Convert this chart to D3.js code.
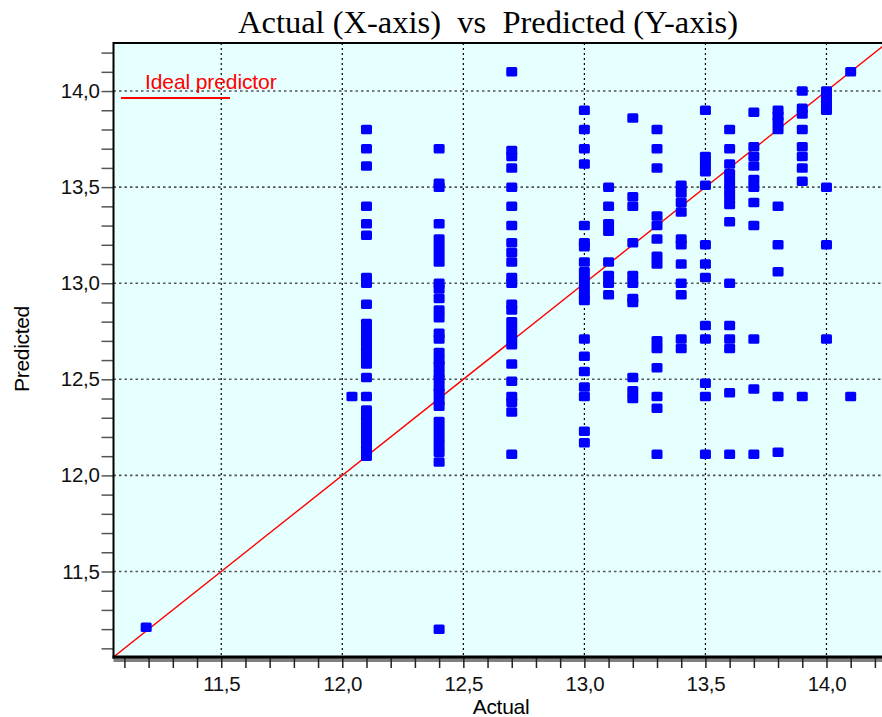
<!DOCTYPE html>
<html>
<head>
<meta charset="utf-8">
<script src="https://cdn.jsdelivr.net/npm/d3@7"></script>
<style>
  html, body { margin: 0; padding: 0; background: #ffffff; }
  svg { display: block; }
</style>
</head>
<body>
<svg id="chart" width="882" height="717"></svg>
<script>
// Actual values (x) and the predicted values observed at each of them (y)
const actualLevels = [11.19, 12.04, 12.1, 12.4, 12.7, 13.0, 13.1, 13.2, 13.3, 13.4, 13.5, 13.6, 13.7, 13.8, 13.9, 14.0, 14.1];

const predicted_11_19 = [11.21];
const predicted_12_04 = [12.41];
const predicted_12_1 = [13.80, 13.70, 13.61, 13.40, 13.31, 13.25, 13.03, 13.00, 12.89, 12.79, 12.76, 12.73, 12.70, 12.67, 12.64, 12.62, 12.58, 12.51, 12.41, 12.34, 12.31, 12.28, 12.25, 12.22, 12.19, 12.16, 12.13, 12.10];
const predicted_12_4 = [13.70, 13.52, 13.50, 13.31, 13.23, 13.19, 13.15, 13.11, 13.00, 12.97, 12.92, 12.86, 12.82, 12.74, 12.71, 12.64, 12.60, 12.57, 12.53, 12.50, 12.46, 12.43, 12.39, 12.36, 12.28, 12.24, 12.20, 12.16, 12.12, 12.07, 11.20];
const predicted_12_7 = [14.10, 13.69, 13.66, 13.60, 13.50, 13.40, 13.30, 13.21, 13.16, 13.11, 13.03, 13.00, 12.89, 12.86, 12.80, 12.76, 12.72, 12.68, 12.58, 12.49, 12.41, 12.38, 12.33, 12.11];
const predicted_13_0 = [13.90, 13.80, 13.70, 13.62, 13.30, 13.21, 13.19, 13.11, 13.06, 13.02, 12.98, 12.94, 12.91, 12.71, 12.62, 12.54, 12.46, 12.41, 12.23, 12.17];
const predicted_13_1 = [13.50, 13.40, 13.31, 13.27, 13.11, 13.04, 13.00, 12.94];
const predicted_13_2 = [13.86, 13.45, 13.40, 13.21, 13.04, 13.00, 12.92, 12.90, 12.51, 12.44, 12.40];
const predicted_13_3 = [13.80, 13.70, 13.60, 13.35, 13.30, 13.23, 13.14, 13.10, 12.70, 12.66, 12.56, 12.41, 12.35, 12.11];
const predicted_13_4 = [13.51, 13.47, 13.42, 13.37, 13.23, 13.20, 13.10, 13.00, 12.94, 12.71, 12.66];
const predicted_13_5 = [13.90, 13.66, 13.62, 13.58, 13.51, 13.20, 13.10, 13.03, 12.78, 12.71, 12.48, 12.41, 12.11];
const predicted_13_6 = [13.80, 13.70, 13.62, 13.57, 13.53, 13.49, 13.45, 13.41, 13.32, 13.00, 12.78, 12.71, 12.66, 12.43, 12.11];
const predicted_13_7 = [13.89, 13.71, 13.66, 13.61, 13.54, 13.50, 13.42, 13.30, 12.71, 12.45, 12.11];
const predicted_13_8 = [13.90, 13.87, 13.84, 13.80, 13.40, 13.20, 13.06, 12.41, 12.12];
const predicted_13_9 = [14.00, 13.91, 13.88, 13.80, 13.71, 13.66, 13.60, 13.53, 12.41];
const predicted_14_0 = [14.00, 13.96, 13.93, 13.90, 13.50, 13.20, 12.71];
const predicted_14_1 = [14.10, 12.41];

const predictedByLevel = [
  predicted_11_19, predicted_12_04, predicted_12_1, predicted_12_4, predicted_12_7,
  predicted_13_0, predicted_13_1, predicted_13_2, predicted_13_3, predicted_13_4,
  predicted_13_5, predicted_13_6, predicted_13_7, predicted_13_8, predicted_13_9,
  predicted_14_0, predicted_14_1
];

// Axis ticks and labels
const majorTicks = [11.5, 12.0, 12.5, 13.0, 13.5, 14.0];
const minorTicks = d3.range(111, 143).map(v => v / 10);
const xDomain = [11.055, 14.25];
const yDomain = [11.055, 14.25];
const titleText = "Actual (X-axis)  vs  Predicted (Y-axis)";
const xTitle = "Actual";
const yTitle = "Predicted";
const legendLabel = "Ideal predictor";

const points = [];
actualLevels.forEach((a, i) => predictedByLevel[i].forEach(p => points.push({ actual: a, predicted: p })));

const SANS = "Liberation Sans, Arial, sans-serif";
const SERIF = "Liberation Serif, Times New Roman, serif";

const svg = d3.select("#chart");
const plot = { left: 113.5, right: 887, top: 43, bottom: 657 };

const x = d3.scaleLinear().domain(xDomain).range([plot.left, plot.right]);
const y = d3.scaleLinear().domain(yDomain).range([plot.bottom, plot.top]);
const fmt = d => d.toFixed(1).replace(".", ",");

// plot background
svg.append("rect")
  .attr("x", plot.left).attr("y", plot.top)
  .attr("width", plot.right - plot.left).attr("height", plot.bottom - plot.top)
  .attr("fill", "#e6ffff");

svg.append("defs").append("clipPath").attr("id", "plotClip")
  .append("rect")
  .attr("x", plot.left).attr("y", plot.top)
  .attr("width", plot.right - plot.left).attr("height", plot.bottom - plot.top);

// grid lines at the major ticks
const grid = svg.append("g");
grid.selectAll("line.h").data(majorTicks).join("line")
  .attr("class", "h")
  .attr("x1", plot.left).attr("x2", plot.right)
  .attr("y1", d => y(d)).attr("y2", d => y(d))
  .attr("stroke", "#555").attr("stroke-width", 1.6)
  .attr("stroke-dasharray", "2.5,3");
grid.selectAll("line.v").data(majorTicks).join("line")
  .attr("class", "v")
  .attr("x1", d => x(d)).attr("x2", d => x(d))
  .attr("y1", plot.top).attr("y2", plot.bottom)
  .attr("stroke", "#000").attr("stroke-width", 1.2)
  .attr("stroke-dasharray", "2,3");

const content = svg.append("g").attr("clip-path", "url(#plotClip)");

// ideal predictor: predicted equals actual
const diag = d3.line().x(d => x(d)).y(d => y(d));
content.append("path")
  .datum([11.0, 14.3])
  .attr("d", diag)
  .attr("fill", "none")
  .attr("stroke", "#ff0000")
  .attr("stroke-width", 1.4);

// observations
const mw = 11, mh = 9.5;
content.selectAll("rect.pt").data(points).join("rect")
  .attr("class", "pt")
  .attr("x", d => x(d.actual) - mw / 2)
  .attr("y", d => y(d.predicted) - mh / 2)
  .attr("width", mw).attr("height", mh)
  .attr("rx", 1.5).attr("ry", 1.5)
  .attr("fill", "#0000ff");

// y axis: minor ticks, then labelled majors
const yMinor = svg.append("g")
  .attr("transform", `translate(${plot.left},0)`)
  .call(d3.axisLeft(y).tickValues(minorTicks).tickSize(12).tickFormat(""));
yMinor.select(".domain").remove();
yMinor.selectAll(".tick line").attr("stroke", "#555").attr("stroke-width", 1.5);

const yMajor = svg.append("g")
  .attr("transform", `translate(${plot.left},0)`)
  .call(d3.axisLeft(y).tickValues(majorTicks).tickSize(0).tickPadding(14).tickFormat(fmt));
yMajor.select(".domain").remove();
yMajor.selectAll("text")
  .attr("font-family", SANS)
  .attr("font-size", 20.5).attr("fill", "#111")
  .attr("letter-spacing", -0.3);

// x axis: shadow band, minor ticks, labelled majors
svg.append("rect")
  .attr("x", plot.left).attr("y", plot.bottom + 1)
  .attr("width", plot.right - plot.left).attr("height", 4)
  .attr("fill", "#808080");

const xMinor = svg.append("g")
  .attr("transform", `translate(0,${plot.bottom})`)
  .call(d3.axisBottom(x).tickValues(minorTicks).tickSize(11).tickFormat(""));
xMinor.select(".domain").remove();
xMinor.selectAll(".tick line").attr("stroke", "#222").attr("stroke-width", 1.5);

const xMajor = svg.append("g")
  .attr("transform", `translate(0,${plot.bottom})`)
  .call(d3.axisBottom(x).tickValues(majorTicks).tickSize(0).tickPadding(19).tickFormat(fmt));
xMajor.select(".domain").remove();
xMajor.selectAll("text")
  .attr("font-family", SANS)
  .attr("font-size", 20.5).attr("fill", "#111")
  .attr("letter-spacing", -0.3);

// frame: top, left and bottom edges
svg.append("line")
  .attr("x1", plot.left).attr("x2", plot.right)
  .attr("y1", plot.top).attr("y2", plot.top)
  .attr("stroke", "#000").attr("stroke-width", 2);
svg.append("line")
  .attr("x1", plot.left).attr("x2", plot.left)
  .attr("y1", plot.top - 1).attr("y2", plot.bottom + 1.5)
  .attr("stroke", "#000").attr("stroke-width", 2);
svg.append("line")
  .attr("x1", plot.left - 1).attr("x2", plot.right)
  .attr("y1", plot.bottom).attr("y2", plot.bottom)
  .attr("stroke", "#000").attr("stroke-width", 3);

// legend
svg.append("text")
  .attr("x", 145).attr("y", 89)
  .attr("font-family", SANS)
  .attr("font-size", 21).attr("letter-spacing", -0.1)
  .attr("fill", "#ff0000")
  .text(legendLabel);
svg.append("line")
  .attr("x1", 121).attr("x2", 230)
  .attr("y1", 98).attr("y2", 98)
  .attr("stroke", "#ff0000").attr("stroke-width", 2);

// titles
svg.append("text")
  .attr("x", 488).attr("y", 33)
  .attr("text-anchor", "middle")
  .attr("font-family", SERIF)
  .attr("font-size", 32.5).attr("fill", "#000")
  .style("white-space", "pre")
  .text(titleText);

svg.append("text")
  .attr("x", 501).attr("y", 714)
  .attr("text-anchor", "middle")
  .attr("font-family", SANS)
  .attr("font-size", 21).attr("letter-spacing", -0.3).attr("fill", "#000")
  .text(xTitle);

svg.append("text")
  .attr("transform", "translate(28.5,349) rotate(-90)")
  .attr("text-anchor", "middle")
  .attr("font-family", SANS)
  .attr("font-size", 21).attr("letter-spacing", -0.3).attr("fill", "#000")
  .text(yTitle);
</script>
</body>
</html>
